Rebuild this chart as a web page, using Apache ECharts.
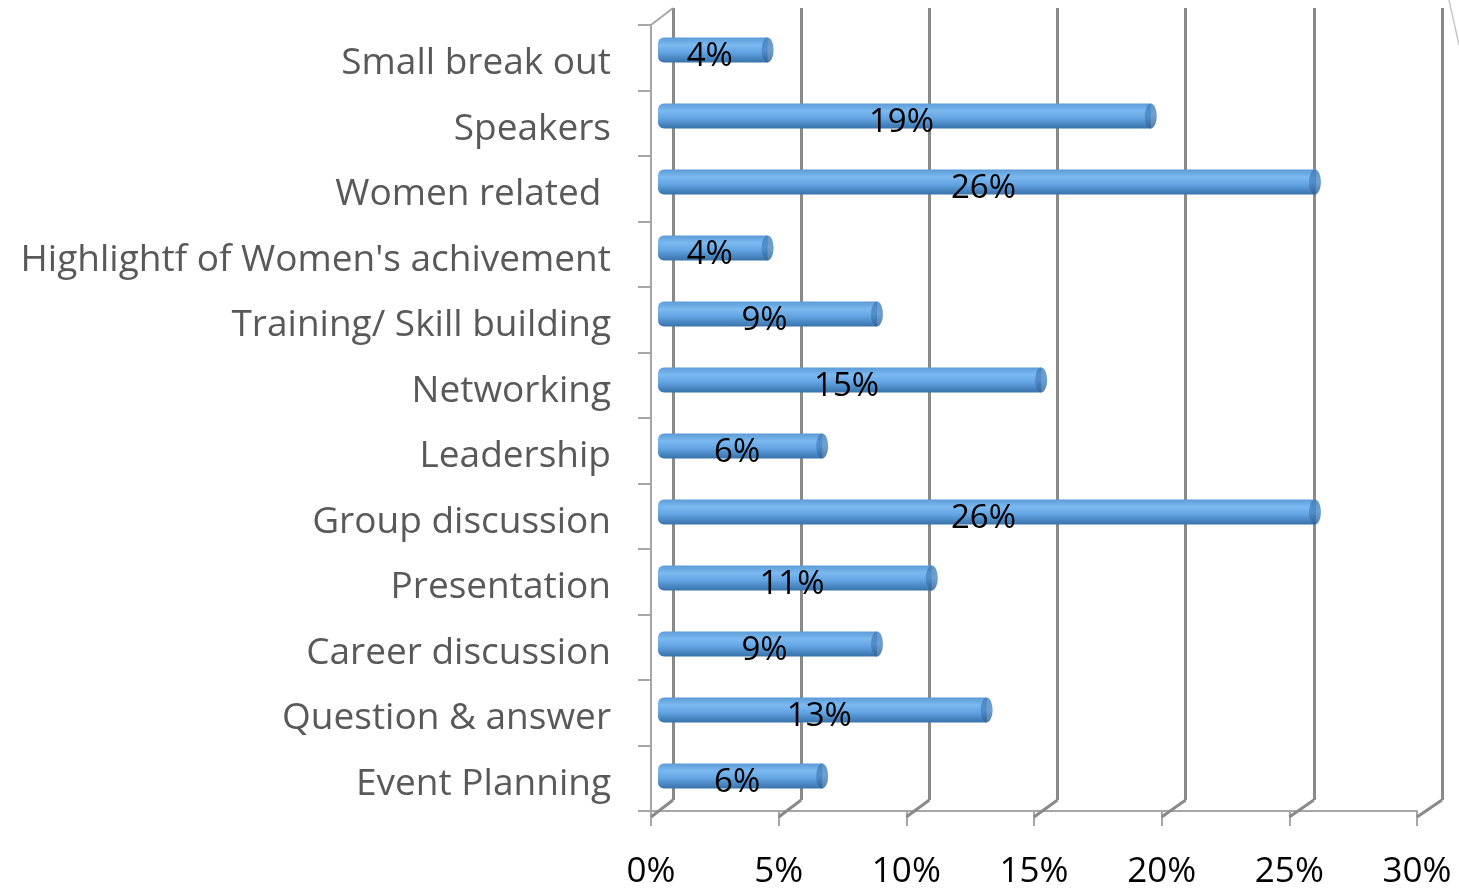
<!DOCTYPE html>
<html><head><meta charset="utf-8">
<script src="https://cdn.jsdelivr.net/npm/echarts@6/dist/echarts.min.js"></script>
<style>html,body{margin:0;padding:0;background:#fff}#c{width:1459px;height:890px}</style>
</head><body><div id="c"></div>
<script>
var categories = ["Small break out","Speakers","Women related ","Highlightf of Women's achivement","Training/ Skill building","Networking","Leadership","Group discussion","Presentation","Career discussion","Question & answer","Event Planning"];
var values = [4.26, 19.15, 25.53, 4.26, 8.51, 14.89, 6.38, 25.53, 10.64, 8.51, 12.77, 6.38];
var xTicks = [0, 5, 10, 15, 20, 25, 30];

var chart = echarts.init(document.getElementById('c'));
var FONT = 'Open Sans';
var gridColor = '#8a8a8a', axisColor = '#a6a6a6';
var barGrad = new echarts.graphic.LinearGradient(0,0,0,1,[
  {offset:0,color:'#5c9bd8'},{offset:0.3,color:'#7cb9f0'},{offset:0.6,color:'#62a3e2'},{offset:1,color:'#3872aa'}]);
var capGrad = new echarts.graphic.LinearGradient(0,0,0,1,[
  {offset:0,color:'#3f7cb8'},{offset:0.5,color:'#4a88c4'},{offset:1,color:'#2d5f90'}]);

chart.setOption({
  animation:false,
  grid:[
    {left:673,right:17,top:8,bottom:90},
    {left:651,right:42,top:25,bottom:73},
    {left:658,right:29,top:17,bottom:81}
  ],
  xAxis:[
    {gridIndex:0,type:'value',min:0,max:30,interval:5,axisLabel:{show:false},axisLine:{show:false},axisTick:{show:false},
     splitLine:{show:true,lineStyle:{color:gridColor,width:3}}},
    {gridIndex:1,type:'value',min:0,max:30,interval:5,splitLine:{show:false},
     axisLine:{show:true,lineStyle:{color:axisColor,width:2}},
     axisTick:{show:true,length:15,lineStyle:{color:axisColor,width:2}},
     axisLabel:{fontFamily:FONT,fontSize:35,color:'#000',margin:44,formatter:function(v){return v+'%';}}},
    {gridIndex:2,type:'value',min:0,max:30,interval:5,show:false}
  ],
  yAxis:[
    {gridIndex:0,type:'category',data:categories,inverse:true,show:false},
    {gridIndex:1,type:'category',data:categories,inverse:true,
     axisLine:{show:true,lineStyle:{color:axisColor,width:2}},
     axisTick:{show:true,length:13,lineStyle:{color:axisColor,width:2}},
     axisLabel:{margin:40,formatter:function(v){return '{a|'+v+'}';},
       rich:{a:{fontFamily:FONT,fontSize:37,color:'#595959',padding:[12,0,0,0]}}}},
    {gridIndex:2,type:'category',data:categories,inverse:true,show:false}
  ],
  series:[
    {type:'bar',xAxisIndex:2,yAxisIndex:2,data:values,barWidth:25,
     itemStyle:{color:barGrad,borderRadius:[6,0,0,6]},
     label:{show:true,position:'inside',fontFamily:FONT,fontSize:33,color:'#000',offset:[-3,7],
       formatter:function(p){return Math.round(p.value)+'%';}},
     z:2},
    {type:'scatter',xAxisIndex:2,yAxisIndex:2,data:values,symbol:'circle',symbolSize:[12,25],
     itemStyle:{color:capGrad},z:3,silent:true}
  ]
});

function drawDecor(){
  var els = [];
  var ls = {stroke:axisColor,lineWidth:2};
  xTicks.forEach(function(t){
    var f = chart.convertToPixel({xAxisIndex:1}, t);
    var b = chart.convertToPixel({xAxisIndex:0}, t);
    els.push({type:'line',shape:{x1:f,y1:817,x2:b,y2:800},style:{stroke:gridColor,lineWidth:3},z:1});
  });
  var f0 = chart.convertToPixel({xAxisIndex:1}, 0);
  var b0 = chart.convertToPixel({xAxisIndex:0}, 0);
  els.push({type:'line',shape:{x1:f0,y1:25,x2:b0,y2:8},style:ls,z:1});
  els.push({type:'line',shape:{x1:1449,y1:0,x2:1459,y2:45},style:{stroke:'#c8c8c8',lineWidth:1.5},z:1});
  chart.setOption({graphic:els});
}
drawDecor();
</script></body></html>
